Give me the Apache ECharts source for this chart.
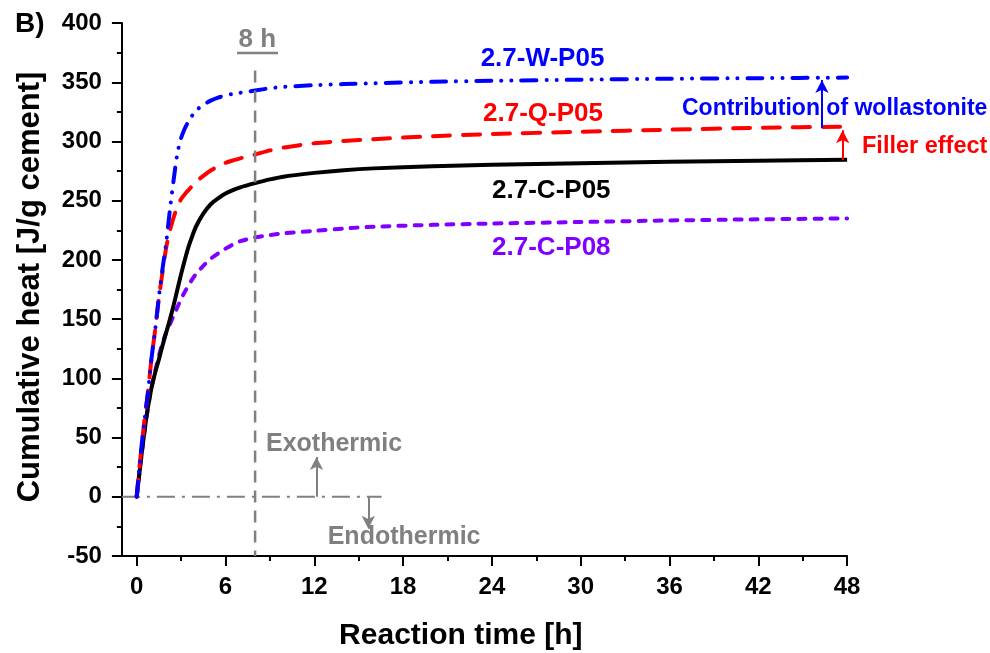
<!DOCTYPE html>
<html>
<head>
<meta charset="utf-8">
<script src="https://cdn.jsdelivr.net/npm/echarts@6/dist/echarts.min.js"></script>
<style>
  html, body { margin: 0; padding: 0; background: #fff; }
  #chart { width: 990px; height: 653px; }
</style>
</head>
<body>
<div id="chart"></div>
<script>
// Reaction time [h] sampled for every curve
const hours = [0, 0.25, 0.5, 0.75, 1, 1.25, 1.5, 1.75, 2, 2.25, 2.5, 2.75, 3, 3.25, 3.5, 3.75, 4, 4.5, 5, 5.5, 6, 6.5, 7, 8, 9, 10, 12, 14, 16, 20, 24, 30, 36, 42, 48];

// Cumulative heat [J/g cement]
const heatC05 = [0, 27, 53, 75, 92, 105, 116, 128, 139, 150, 162, 175, 188, 200, 211, 220, 228, 239, 247, 252, 256, 259, 261.3, 264.8, 268, 270.5, 273.5, 275.8, 277.3, 279, 280.3, 281.6, 282.8, 283.8, 284.5];
const heatW05 = [0, 34, 62, 87, 117, 141, 169, 193, 215, 243, 268, 290, 303, 311, 317, 322, 326, 331, 334.5, 337, 339, 340.2, 341.2, 343, 345, 346.2, 347.6, 348.5, 349.2, 350.4, 351.3, 352.2, 353, 353.5, 354];
const heatQ05 = [0, 33, 62, 87, 117, 141, 168, 190, 211, 225, 236, 245, 251.5, 255.5, 259, 262.5, 266, 271, 275.5, 279, 282, 284, 285.8, 289, 292.5, 295, 298.5, 300.5, 302, 304.5, 306.3, 308.2, 310, 311.6, 312.5];
const heatC08 = [0, 27, 52, 74, 92, 106, 119, 130, 139, 146, 153, 160, 167, 173, 178.5, 183.5, 188, 195, 201, 205.5, 209.5, 213, 215.8, 219, 221, 222.5, 224.5, 226.5, 228, 229.6, 230.7, 232, 233.3, 234.3, 235];

// Axis ticks
const xMajorTicks = [0, 6, 12, 18, 24, 30, 36, 42, 48];
const xMinorTicks = [3, 9, 15, 21, 27, 33, 39, 45];

// Reference lines: 8 h marker and the zero-heat baseline
const markerHour = [8, 8];
const markerHeat = [360, -50];
const baselineHour = [-1, 16.55];
const baselineHeat = [0, 0];

// Arrows: [hour, from heat, to heat (tip)]
const exoArrow = [12.15, 0, 33.5];
const endoArrow = [15.65, 0, -27];
const wollastoniteArrow = [46.3, 311.5, 352];
const fillerArrow = [47.7, 284.3, 309.5];

const FONT = '"Liberation Sans", Arial, Helvetica, sans-serif';
const GRAY = '#808080';
const BLUE = '#0000ff';
const RED = '#ff0000';
const PURPLE = '#8000ff';

const zip = (xs, ys) => xs.map((x, i) => [x, ys[i]]);

function arrowMark(list, color) {
  return {
    silent: true,
    symbol: ['none', 'arrow'],
    symbolSize: [10, 13],
    label: { show: false },
    emphasis: { disabled: true },
    animation: false,
    lineStyle: { color: color, width: 2, type: 'solid' },
    itemStyle: { color: color },
    data: list.map(a => [{ coord: [a[0], a[1]] }, { coord: [a[0], a[2]] }])
  };
}

function curve(name, values, color, dash, width, cap) {
  return {
    name: name,
    type: 'line',
    data: zip(hours, values),
    showSymbol: false,
    symbol: 'none',
    smooth: 0.25,
    lineStyle: { color: color, width: width, type: dash, cap: cap || 'butt', join: 'round' },
    silent: true,
    z: 3
  };
}

const chart = echarts.init(document.getElementById('chart'), null, { renderer: 'canvas' });

const wSeries = curve('2.7-W-P05', heatW05, BLUE, [15, 10, 0.1, 10, 0.1, 10], 4, 'round');
wSeries.markLine = arrowMark([wollastoniteArrow], BLUE);
const qSeries = curve('2.7-Q-P05', heatQ05, RED, [17, 13], 4, 'round');
qSeries.markLine = arrowMark([fillerArrow], RED);

const labelText = (text, x, y, color, size, align) => ({
  type: 'text',
  x: x, y: y,
  silent: true,
  style: {
    text: text,
    fill: color,
    font: 'bold ' + size + 'px ' + FONT,
    textAlign: align || 'center',
    textVerticalAlign: 'middle'
  },
  z: 10
});

chart.setOption({
  animation: false,
  backgroundColor: '#ffffff',
  grid: { left: 121.9, right: 142.9, top: 23.1, bottom: 97.1, containLabel: false },
  xAxis: [
    {
      type: 'value',
      min: -1,
      max: 48,
      axisLine: { show: true, onZero: false, lineStyle: { color: '#000', width: 2 } },
      axisTick: { show: true, customValues: xMajorTicks, length: 10, lineStyle: { color: '#000', width: 2 } },
      axisLabel: {
        customValues: xMajorTicks,
        margin: 19,
        color: '#000',
        fontSize: 24,
        fontWeight: 'bold',
        fontFamily: FONT
      },
      splitLine: { show: false }
    },
    {
      type: 'value',
      min: -1,
      max: 48,
      position: 'bottom',
      axisLine: { show: false, onZero: false },
      axisTick: { show: true, customValues: xMinorTicks, length: 5, lineStyle: { color: '#000', width: 2 } },
      axisLabel: { show: false },
      splitLine: { show: false }
    }
  ],
  yAxis: {
    type: 'value',
    min: -50,
    max: 400,
    interval: 50,
    axisLine: { show: true, onZero: false, lineStyle: { color: '#000', width: 2 } },
    axisTick: { show: true, length: 10, lineStyle: { color: '#000', width: 2 } },
    minorTick: { show: true, splitNumber: 2, length: 5, lineStyle: { color: '#000', width: 2 } },
    axisLabel: {
      margin: 20,
      color: '#000',
      fontSize: 24,
      fontWeight: 'bold',
      fontFamily: FONT
    },
    splitLine: { show: false }
  },
  series: [
    {
      name: 'baseline',
      type: 'line',
      data: zip(baselineHour, baselineHeat),
      symbol: 'none',
      silent: true,
      lineStyle: { color: GRAY, width: 2, type: [18, 7, 3, 7] },
      z: 1,
      markLine: arrowMark([exoArrow, endoArrow], GRAY)
    },
    curve('2.7-C-P08', heatC08, PURPLE, [7, 9], 4, 'round'),
    curve('2.7-C-P05', heatC05, '#000000', 'solid', 4),
    qSeries,
    wSeries,
    {
      name: '8 h',
      type: 'line',
      data: zip(markerHour, markerHeat),
      symbol: 'none',
      silent: true,
      lineStyle: { color: GRAY, width: 2.5, type: [12, 8] },
      z: 5
    }
  ],
  graphic: [
    labelText('B)', 15, 24, '#000', 28, 'left'),
    labelText('8 h', 257.3, 40, GRAY, 26),
    {
      type: 'line', silent: true, z: 10,
      shape: { x1: 237, y1: 53, x2: 278, y2: 53 },
      style: { stroke: GRAY, lineWidth: 2.5 }
    },
    labelText('2.7-W-P05', 542.5, 59, BLUE, 26),
    labelText('2.7-Q-P05', 543, 114, RED, 26),
    labelText('2.7-C-P05', 551.3, 190.5, '#000', 26),
    labelText('2.7-C-P08', 551.3, 248, PURPLE, 26),
    labelText('Contribution of wollastonite', 682, 109, BLUE, 23, 'left'),
    labelText('Filler effect', 862, 147, RED, 23.5, 'left'),
    labelText('Exothermic', 266, 444.3, GRAY, 25, 'left'),
    labelText('Endothermic', 327.7, 536.7, GRAY, 25, 'left'),
    labelText('Reaction time [h]', 460.8, 636, '#000', 30),
    {
      type: 'text',
      x: 30, y: 287,
      rotation: Math.PI / 2,
      silent: true,
      z: 10,
      style: {
        text: 'Cumulative heat [J/g cement]',
        fill: '#000',
        font: 'bold 31px ' + FONT,
        textAlign: 'center',
        textVerticalAlign: 'middle'
      }
    }
  ]
});
</script>
</body>
</html>
